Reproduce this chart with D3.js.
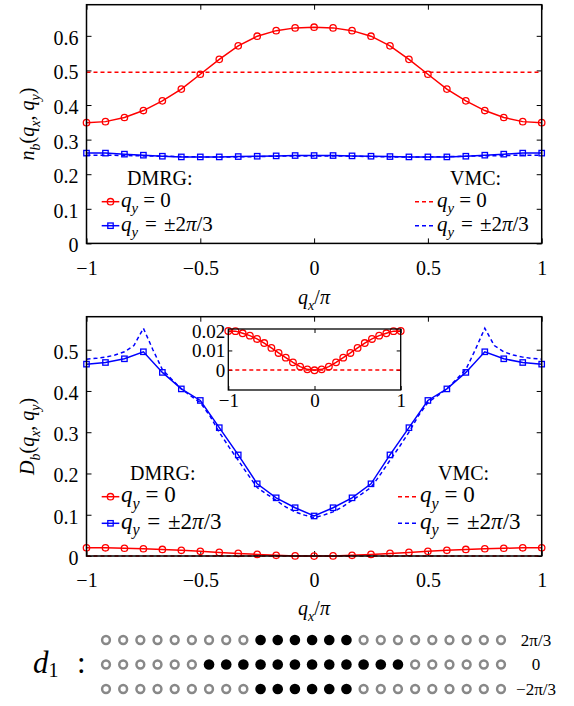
<!DOCTYPE html>
<html><head><meta charset="utf-8">
<script src="https://cdn.jsdelivr.net/npm/d3@7"></script>
</head><body style="margin:0;background:#fff">
<svg id="c" width="574" height="706" style="display:block"></svg>
<script>
// ---------------- DATA ----------------
const qx = [-1,-11/12,-10/12,-9/12,-8/12,-7/12,-6/12,-5/12,-4/12,-3/12,-2/12,-1/12,0,
            1/12,2/12,3/12,4/12,5/12,6/12,7/12,8/12,9/12,10/12,11/12,1];
// top panel n_b(qx,qy)
const nbDmrgQ0 = [0.349,0.352,0.364,0.384,0.412,0.446,0.489,0.532,0.571,0.599,0.615,0.623,0.625,
                  0.623,0.615,0.599,0.571,0.532,0.489,0.446,0.412,0.384,0.364,0.352,0.349];
const nbDmrgQ2 = [0.261,0.261,0.258,0.255,0.252,0.250,0.250,0.250,0.251,0.252,0.253,0.254,0.254,
                  0.254,0.253,0.252,0.251,0.250,0.250,0.250,0.252,0.255,0.258,0.261,0.261];
const nbVmcQ0x = [-1, 1];
const nbVmcQ0 = [0.495, 0.495];
const nbVmcQ2 = [0.255,0.255,0.254,0.253,0.252,0.251,0.250,0.250,0.250,0.251,0.252,0.253,0.253,
                 0.253,0.252,0.251,0.250,0.250,0.250,0.251,0.252,0.253,0.254,0.255,0.255];
// bottom panel D_b(qx,qy)
const dbDmrgQ0 = [0.0200,0.0199,0.0188,0.0176,0.0159,0.0138,0.0113,0.0087,0.0063,0.0039,0.0017,0.0003,-0.0002,
                  0.0003,0.0017,0.0039,0.0063,0.0087,0.0113,0.0138,0.0159,0.0176,0.0188,0.0199,0.0200];
const dbDmrgQ2 = [0.465,0.469,0.478,0.495,0.445,0.405,0.377,0.311,0.245,0.175,0.141,0.117,0.097,
                  0.117,0.141,0.175,0.245,0.311,0.377,0.405,0.445,0.495,0.478,0.469,0.465];
const dbVmcQ0x = [-1, 1];
const dbVmcQ0 = [0, 0];
const qxFine = [-1,-23/24,-22/24,-21/24,-20/24,-19/24,-18/24,-17/24,-16/24,-15/24,-14/24,-13/24,-12/24,
                -11/24,-10/24,-9/24,-8/24,-7/24,-6/24,-5/24,-4/24,-3/24,-2/24,-1/24,0,
                1/24,2/24,3/24,4/24,5/24,6/24,7/24,8/24,9/24,10/24,11/24,12/24,
                13/24,14/24,15/24,16/24,17/24,18/24,19/24,20/24,21/24,22/24,23/24,1];
const dbVmcQ2 = [0.477,0.479,0.482,0.487,0.495,0.510,0.552,0.500,0.452,0.428,0.405,0.388,0.372,
                 0.340,0.300,0.265,0.232,0.198,0.166,0.150,0.135,0.119,0.107,0.099,0.093,
                 0.099,0.107,0.119,0.135,0.150,0.166,0.198,0.232,0.265,0.300,0.340,0.372,
                 0.388,0.405,0.428,0.452,0.500,0.552,0.510,0.495,0.487,0.482,0.479,0.477];
const inVmcQ0 = [0, 0];
// tick labels
const xTicks = [-1,-0.5,0,0.5,1];
const xTickLabels = ["\u22121","\u22120.5","0","0.5","1"];
const yTicksTop = [0,0.1,0.2,0.3,0.4,0.5,0.6];
const yTicksBot = [0,0.1,0.2,0.3,0.4,0.5];
const insetXTicks = [-1,0,1];
const insetXTickLabels = ["\u22121","0","1"];
const insetYTicks = [0,0.01,0.02];
const insetYTickLabels = ["0","0.01","0.02"];
// occupation diagram d1
const occRowLabels = ["2\u03c0/3","0","\u22122\u03c0/3"];
const occPlus  = [0,0,0,0,0,0,0,0,0,1,1,1,1,1,1,0,0,0,0,0,0,0,0,0];
const occZero  = [0,0,0,0,0,0,1,1,1,1,1,1,1,1,1,1,1,1,0,0,0,0,0,0];
const occMinus = [0,0,0,0,0,0,0,0,0,1,1,1,1,1,1,0,0,0,0,0,0,0,0,0];

// ---------------- DRAWING ----------------
const RED = "#ff0000", BLUE = "#0000ff";
const FONT = "\"Liberation Serif\"";
const svg = d3.select("#c");
const X0 = 86.5, X1 = 541.7;

function mtext(g, x, y, parts, size, anchor) {
  const t = g.append("text").attr("x", x).attr("y", y).attr("font-size", size)
    .attr("text-anchor", anchor || "start").style("font-family", FONT);
  let shift = 0;
  parts.forEach(p => {
    const ts = t.append("tspan").text(p.t);
    if (p.i) ts.attr("font-style", "italic");
    const target = p.s ? size * 0.28 : 0;
    if (target !== shift) { ts.attr("dy", target - shift); shift = target; }
    if (p.s) ts.attr("font-size", size * 0.7);
  });
  return t;
}

function panel(cfg) {
  const g = svg.append("g");
  const x = d3.scaleLinear().domain([-1, 1]).range([X0, X1]);
  const y = d3.scaleLinear().domain(cfg.ydom).range([cfg.y1, cfg.y0]);
  g.append("rect").attr("x", X0).attr("y", cfg.y0).attr("width", X1 - X0).attr("height", cfg.y1 - cfg.y0)
    .attr("fill", "#fff");
  const ax = (a, pos, labels) => {
    const gg = g.append("g").attr("transform", pos).call(a);
    gg.attr("font-family", null);
    gg.select(".domain").remove();
    gg.selectAll("line").attr("stroke", "#000").attr("stroke-width", 1);
    gg.selectAll("text").attr("font-size", 20).style("font-family", FONT).attr("fill", "#000");
    if (!labels) gg.selectAll("text").remove();
    return gg;
  };
  ax(d3.axisBottom(x).tickValues(xTicks).tickSize(-5).tickPadding(17)
      .tickFormat((d, i) => xTickLabels[i]), `translate(0,${cfg.y1})`, true);
  ax(d3.axisTop(x).tickValues(xTicks).tickSize(-5), `translate(0,${cfg.y0})`, false);
  const ly = ax(d3.axisLeft(y).tickValues(cfg.yticks).tickSize(-5).tickPadding(8)
      .tickFormat(d3.format("~g")), `translate(${X0},0)`, true);
  ly.selectAll("text").attr("dy", "0.42em");
  ax(d3.axisRight(y).tickValues(cfg.yticks).tickSize(-5), `translate(${X1},0)`, false);

  const clipId = "clip" + cfg.id;
  svg.append("clipPath").attr("id", clipId).append("rect")
    .attr("x", X0 - 6).attr("y", cfg.y0).attr("width", X1 - X0 + 12).attr("height", cfg.y1 - cfg.y0 + 4);
  const pg = g.append("g").attr("clip-path", `url(#${clipId})`);
  const line = d3.line().x(d => x(d[0])).y(d => y(d[1]));
  const zip = (xs, ys) => xs.map((v, i) => [v, ys[i]]);
  cfg.series.forEach(s => {
    const pts = zip(s.x, s.y);
    pg.append("path").attr("d", line(pts)).attr("fill", "none").attr("stroke", s.c)
      .attr("stroke-width", 1.5).attr("stroke-dasharray", s.dash ? "4,3" : null);
    if (s.m === "o") {
      pg.selectAll(null).data(pts).enter().append("circle")
        .attr("cx", d => x(d[0])).attr("cy", d => y(d[1])).attr("r", 3.2)
        .attr("fill", "none").attr("stroke", s.c).attr("stroke-width", 1.3);
    } else if (s.m === "s") {
      pg.selectAll(null).data(pts).enter().append("rect")
        .attr("x", d => x(d[0]) - 2.7).attr("y", d => y(d[1]) - 2.7).attr("width", 5.4).attr("height", 5.4)
        .attr("fill", "none").attr("stroke", s.c).attr("stroke-width", 1.3);
    }
  });
  g.append("rect").attr("x", X0).attr("y", cfg.y0).attr("width", X1 - X0).attr("height", cfg.y1 - cfg.y0)
    .attr("fill", "none").attr("stroke", "#000").attr("stroke-width", 1.5);

  // axis titles
  mtext(g, 314, cfg.xlabY, [{t:"q",i:1},{t:"x",i:1,s:1},{t:"/"},{t:"\u03c0",i:1}], 20, "middle");
  const yl = mtext(g, 0, 0, cfg.ylab, 20, "middle");
  yl.attr("transform", `translate(34,${(cfg.y0 + cfg.y1) / 2}) rotate(-90)`);

  // legend
  const L = cfg.leg;
  g.append("text").attr("x", L.dx).attr("y", L.hy).attr("font-size", 20).style("font-family", FONT).text("DMRG:");
  g.append("text").attr("x", L.vx).attr("y", L.hy).attr("font-size", 20).style("font-family", FONT).text("VMC:");
  const q0 = [{t:"q",i:1},{t:"y",i:1,s:1},{t:" = 0"}];
  const q2 = [{t:"q",i:1},{t:"y",i:1,s:1},{t:"\u2004=\u2004\u00b12"},{t:"\u03c0",i:1},{t:"/3"}];
  const rows = [[L.r1, RED, "o", q0], [L.r2, BLUE, "s", q2]];
  rows.forEach(([ry, c, m, txt]) => {
    g.append("line").attr("x1", 101.7).attr("x2", 119.3).attr("y1", ry).attr("y2", ry)
      .attr("stroke", c).attr("stroke-width", 1.5);
    if (m === "o") g.append("circle").attr("cx", 110.5).attr("cy", ry).attr("r", 3.2)
      .attr("fill", "none").attr("stroke", c).attr("stroke-width", 1.3);
    else g.append("rect").attr("x", 110.5 - 2.7).attr("y", ry - 2.7).attr("width", 5.4).attr("height", 5.4)
      .attr("fill", "none").attr("stroke", c).attr("stroke-width", 1.3);
    mtext(g, 121, ry + 5.5, txt, L.fs);
    g.append("line").attr("x1", L.vl).attr("x2", L.vl + 21).attr("y1", ry).attr("y2", ry)
      .attr("stroke", c).attr("stroke-width", 1.5).attr("stroke-dasharray", "4,3");
    mtext(g, L.vl + 22, ry + 5.5, txt, L.fs);
  });
  return {x, y, g};
}

panel({
  id: "top", y0: 4.7, y1: 243.4, ydom: [0, 0.69], yticks: yTicksTop, xlabY: 304,
  ylab: [{t:"n",i:1},{t:"b",i:1,s:1},{t:"("},{t:"q",i:1},{t:"x",i:1,s:1},{t:", "},{t:"q",i:1},{t:"y",i:1,s:1},{t:")"}],
  series: [
    {x: qx, y: nbDmrgQ0, c: RED, m: "o"},
    {x: qx, y: nbDmrgQ2, c: BLUE, m: "s"},
    {x: nbVmcQ0x, y: nbVmcQ0, c: RED, dash: true},
    {x: qx, y: nbVmcQ2, c: BLUE, dash: true}
  ],
  leg: {dx: 127, vx: 450, hy: 185, r1: 201.7, r2: 225.7, vl: 415, fs: 21}
});

panel({
  id: "bot", y0: 316.7, y1: 556, ydom: [0, 0.58], yticks: yTicksBot, xlabY: 615,
  ylab: [{t:"D",i:1},{t:"b",i:1,s:1},{t:"("},{t:"q",i:1},{t:"x",i:1,s:1},{t:", "},{t:"q",i:1},{t:"y",i:1,s:1},{t:")"}],
  series: [
    {x: dbVmcQ0x, y: dbVmcQ0, c: RED, dash: true},
    {x: qxFine, y: dbVmcQ2, c: BLUE, dash: true},
    {x: qx, y: dbDmrgQ0, c: RED, m: "o"},
    {x: qx, y: dbDmrgQ2, c: BLUE, m: "s"}
  ],
  leg: {dx: 130, vx: 438, hy: 480, r1: 496.7, r2: 523.3, vl: 398, fs: 23}
});

// inset
(function () {
  const g = svg.append("g");
  const IX0 = 228.3, IX1 = 400.7, IY0 = 329, IY1 = 390;
  const x = d3.scaleLinear().domain([-1, 1]).range([IX0, IX1]);
  const y = d3.scaleLinear().domain([-0.0103, 0.021]).range([IY1, IY0]);
  g.append("rect").attr("x", IX0).attr("y", IY0).attr("width", IX1 - IX0).attr("height", IY1 - IY0).attr("fill", "#fff");
  const ax = (a, pos, labels) => {
    const gg = g.append("g").attr("transform", pos).call(a);
    gg.attr("font-family", null);
    gg.select(".domain").remove();
    gg.selectAll("line").attr("stroke", "#000");
    gg.selectAll("text").attr("font-size", 19).style("font-family", FONT).attr("fill", "#000");
    if (!labels) gg.selectAll("text").remove();
    return gg;
  };
  ax(d3.axisBottom(x).tickValues(insetXTicks).tickSize(-4).tickPadding(3)
    .tickFormat((d, i) => insetXTickLabels[i]), `translate(0,${IY1})`, true);
  ax(d3.axisTop(x).tickValues(insetXTicks).tickSize(-4), `translate(0,${IY0})`, false);
  const ly = ax(d3.axisLeft(y).tickValues(insetYTicks).tickSize(-4).tickPadding(3)
    .tickFormat((d, i) => insetYTickLabels[i]), `translate(${IX0},0)`, true);
  ly.selectAll("text").attr("dy", "0.34em");
  ax(d3.axisRight(y).tickValues(insetYTicks).tickSize(-4), `translate(${IX1},0)`, false);
  const line = d3.line().x(d => x(d[0])).y(d => y(d[1]));
  g.append("path").attr("d", line([[-1, inVmcQ0[0]], [1, inVmcQ0[1]]])).attr("fill", "none")
    .attr("stroke", RED).attr("stroke-width", 1.5).attr("stroke-dasharray", "4,3");
  const pts = qx.map((v, i) => [v, dbDmrgQ0[i]]);
  g.append("path").attr("d", line(pts)).attr("fill", "none").attr("stroke", RED).attr("stroke-width", 1.5);
  g.selectAll(null).data(pts).enter().append("circle")
    .attr("cx", d => x(d[0])).attr("cy", d => y(d[1])).attr("r", 3.3)
    .attr("fill", "none").attr("stroke", RED).attr("stroke-width", 1.3);
  g.append("rect").attr("x", IX0).attr("y", IY0).attr("width", IX1 - IX0).attr("height", IY1 - IY0)
    .attr("fill", "none").attr("stroke", "#000").attr("stroke-width", 1.3);
})();

// occupation diagram
(function () {
  const g = svg.append("g");
  const rows = [occPlus, occZero, occMinus];
  const cx = d3.scaleLinear().domain([0, occPlus.length - 1]).range([106, 501]);
  const ry = d3.scalePoint().domain(occRowLabels).range([640, 689]);
  rows.forEach((r, k) => {
    const yy = ry(occRowLabels[k]);
    g.selectAll(null).data(r).enter().append("circle")
      .attr("cx", (d, i) => cx(i)).attr("cy", yy)
      .attr("r", d => d ? 5.3 : 3.9)
      .attr("fill", d => d ? "#000" : "none")
      .attr("stroke", d => d ? "none" : "#888")
      .attr("stroke-width", 2.5);
    g.append("text").attr("x", 536).attr("y", yy + 5.5).attr("font-size", 17).style("font-family", FONT)
      .attr("text-anchor", "middle").text(occRowLabels[k]);
  });
  const t = g.append("text").attr("x", 33).attr("y", 673).attr("font-size", 31).style("font-family", FONT);
  t.append("tspan").attr("font-style", "italic").text("d");
  t.append("tspan").attr("font-size", 20).attr("dy", 4).text("1");
  g.append("text").attr("x", 77).attr("y", 673).attr("font-size", 31).style("font-family", FONT).text(":");
})();
</script>
</body></html>
